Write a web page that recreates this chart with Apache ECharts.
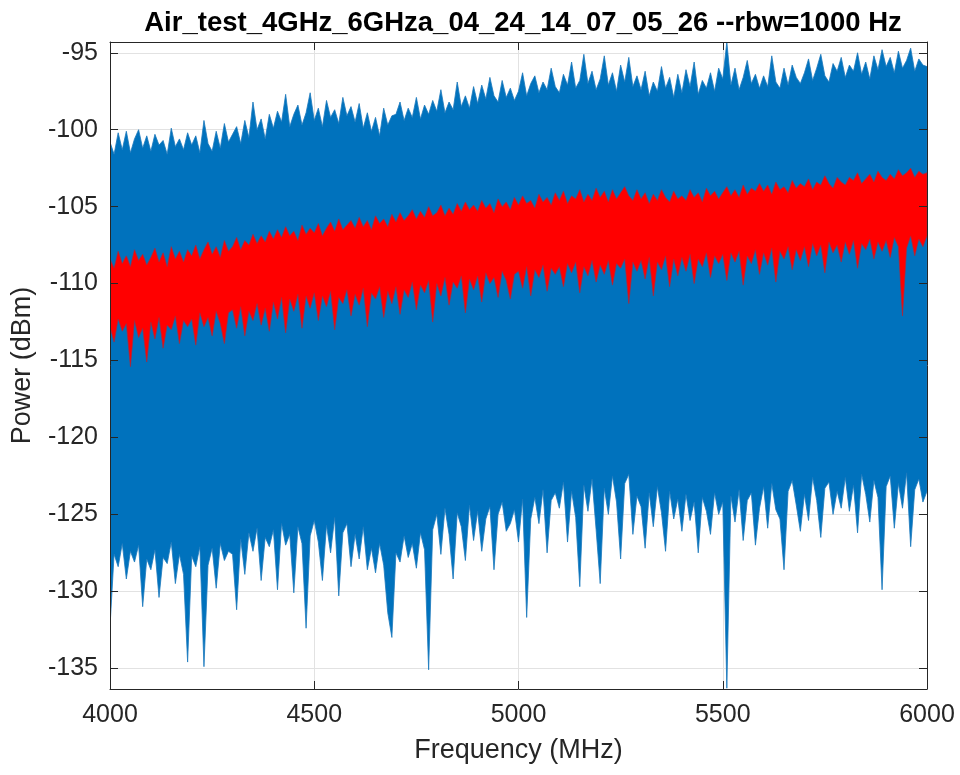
<!DOCTYPE html>
<html>
<head>
<meta charset="utf-8">
<script src="https://cdn.jsdelivr.net/npm/echarts@6/dist/echarts.min.js"></script>
<style>html,body{margin:0;padding:0;background:#fff}#c{width:960px;height:775px}</style>
</head>
<body>
<div id="c"></div>
<script>
// ---- data (10 MHz bins) ----
var titleText = 'Air_test_4GHz_6GHza_04_24_14_07_05_26 --rbw=1000 Hz';
var xName = 'Frequency (MHz)';
var yName = 'Power (dBm)';
var freqStart = 4000, freqStep = 10;
var xTicks = [4000, 4500, 5000, 5500, 6000];
var yTicks = [-135, -130, -125, -120, -115, -110, -105, -100, -95];

// blue trace: per-bin maximum (upper envelope)
var blueTop = [
-100.8,-101.6,-100.2,-101.3,-100.1,-101.5,-100.6,-100.0,-101.2,-100.4,
-101.4,-100.3,-101.0,-100.7,-101.6,-99.9,-101.1,-100.6,-101.3,-100.2,
-101.0,-100.4,-101.5,-99.4,-100.9,-101.4,-100.1,-101.2,-99.6,-100.8,
-100.3,-99.8,-100.9,-99.4,-100.5,-98.2,-100.0,-99.3,-100.6,-99.0,
-99.9,-98.8,-99.5,-97.7,-99.8,-99.0,-98.4,-99.7,-98.9,-97.6,
-99.4,-98.6,-99.8,-98.1,-99.2,-98.7,-99.6,-97.9,-99.1,-98.5,
-99.5,-98.3,-99.9,-98.9,-100.1,-99.2,-100.4,-98.6,-99.7,-99.1,
-99.0,-98.2,-99.4,-98.6,-99.2,-97.9,-99.3,-98.4,-99.0,-98.1,
-98.8,-97.4,-98.9,-98.2,-98.7,-96.9,-98.5,-97.8,-98.6,-97.2,
-98.3,-97.1,-98.0,-96.6,-97.8,-98.2,-96.8,-97.9,-97.3,-98.1,
-97.5,-96.3,-97.8,-97.0,-96.5,-97.6,-96.9,-97.4,-96.0,-97.2,
-97.6,-96.4,-97.1,-95.6,-97.3,-96.8,-95.1,-97.0,-96.2,-97.4,
-96.7,-95.2,-97.1,-96.3,-97.5,-95.8,-96.9,-95.3,-97.2,-96.5,
-97.4,-96.2,-97.8,-96.9,-97.5,-95.9,-97.3,-96.6,-97.9,-96.4,
-97.6,-96.1,-97.2,-95.6,-97.7,-96.8,-97.3,-96.3,-97.5,-96.0,
-96.7,-94.3,-97.1,-96.0,-97.4,-96.6,-95.5,-97.0,-96.4,-97.3,
-96.5,-97.2,-95.2,-96.9,-97.3,-96.0,-97.1,-95.8,-96.6,-97.0,
-96.3,-95.4,-96.8,-96.0,-95.1,-96.5,-96.9,-95.7,-96.2,-95.3,
-96.6,-95.8,-96.2,-95.0,-96.4,-95.6,-96.7,-95.2,-96.1,-94.8,
-95.9,-95.3,-96.3,-94.9,-96.0,-95.5,-94.7,-96.2,-95.4,-95.8,
-95.9
];
// blue trace: per-bin minimum (lower envelope)
var blueBot = [
-132.3,-127.6,-128.4,-126.9,-129.2,-127.4,-128.1,-127.0,-131.0,-127.9,
-128.6,-127.3,-130.4,-127.8,-128.2,-126.8,-129.5,-127.6,-128.9,-134.6,
-127.7,-128.4,-127.1,-134.9,-128.3,-127.2,-129.8,-126.9,-128.0,-127.4,
-127.6,-131.2,-126.6,-128.9,-126.2,-127.4,-125.9,-129.3,-126.5,-127.1,
-126.0,-129.9,-125.6,-127.0,-126.3,-130.1,-125.8,-126.9,-132.4,-126.4,
-125.4,-126.8,-129.3,-125.7,-127.5,-125.2,-130.3,-126.2,-125.6,-128.4,
-126.3,-127.9,-125.8,-128.6,-127.2,-128.8,-126.9,-128.3,-131.4,-133.0,
-127.5,-128.1,-126.4,-127.8,-126.9,-128.5,-126.2,-127.3,-135.1,-126.0,
-125.0,-127.6,-124.6,-126.3,-129.2,-124.9,-125.8,-128.0,-124.4,-126.7,
-124.8,-127.4,-125.3,-124.5,-128.6,-125.0,-124.2,-126.1,-125.6,-124.7,
-126.8,-124.0,-131.7,-125.3,-123.9,-125.6,-123.4,-127.5,-124.1,-123.6,
-124.6,-122.9,-126.8,-123.5,-125.2,-129.7,-123.1,-124.8,-122.7,-126.0,
-129.5,-123.3,-125.0,-122.5,-124.2,-127.9,-123.0,-122.4,-126.3,-123.8,
-124.5,-127.2,-123.6,-125.8,-123.2,-124.9,-127.4,-123.5,-125.3,-124.0,
-126.1,-123.7,-125.4,-124.2,-127.5,-123.9,-124.8,-126.3,-123.6,-125.0,
-124.2,-136.3,-123.8,-125.5,-123.4,-126.7,-124.1,-123.6,-127.0,-124.6,
-123.2,-125.9,-123.0,-124.7,-125.3,-128.6,-123.5,-122.8,-124.4,-126.1,
-123.7,-125.4,-122.6,-124.1,-126.5,-123.3,-122.9,-125.0,-123.5,-124.6,
-122.6,-124.8,-123.1,-126.2,-122.4,-123.7,-125.5,-122.8,-123.9,-129.9,
-123.2,-122.5,-125.9,-123.0,-124.6,-122.3,-127.1,-123.4,-122.7,-124.2,
-123.5
];
// red trace: per-bin maximum
var redTop = [
-108.4,-109.0,-107.9,-108.7,-108.2,-108.9,-107.8,-108.5,-108.1,-108.8,
-108.3,-107.7,-108.6,-108.0,-108.9,-107.6,-108.4,-107.9,-108.6,-107.8,
-108.2,-107.5,-108.4,-107.8,-107.3,-108.1,-107.6,-108.3,-107.2,-107.9,
-107.6,-107.0,-107.8,-107.2,-107.5,-106.8,-107.4,-106.9,-107.3,-106.6,
-107.1,-106.5,-107.0,-106.3,-106.9,-106.6,-107.2,-106.2,-106.8,-106.4,
-106.7,-106.1,-106.9,-106.4,-106.0,-106.6,-105.8,-106.5,-106.2,-105.9,
-106.4,-105.7,-106.3,-105.9,-106.5,-105.6,-106.1,-105.8,-106.3,-105.5,
-106.0,-105.4,-105.9,-105.6,-105.2,-105.8,-105.3,-105.7,-105.0,-105.6,
-105.4,-104.9,-105.6,-105.1,-105.5,-104.8,-105.3,-104.7,-105.2,-104.9,
-105.3,-104.6,-105.1,-104.8,-105.4,-104.5,-105.0,-104.7,-105.2,-104.4,
-104.9,-104.3,-104.8,-104.6,-105.1,-104.2,-104.7,-104.4,-104.9,-104.1,
-104.6,-104.0,-104.8,-104.3,-104.5,-103.9,-104.7,-104.2,-104.6,-103.8,
-104.4,-104.0,-104.7,-103.9,-104.5,-104.1,-103.7,-104.3,-104.6,-103.9,
-104.5,-104.1,-104.8,-104.2,-104.6,-103.9,-104.4,-104.7,-104.0,-104.5,
-104.3,-104.6,-103.9,-104.4,-104.1,-104.7,-103.8,-104.3,-104.0,-104.5,
-104.1,-103.7,-104.3,-103.9,-104.4,-103.6,-104.2,-103.8,-104.0,-103.5,
-104.0,-103.6,-104.2,-103.4,-103.9,-103.7,-104.1,-103.3,-103.8,-103.5,
-103.7,-103.2,-103.9,-103.4,-103.6,-103.0,-103.5,-103.8,-103.1,-103.4,
-103.6,-103.1,-103.3,-102.8,-103.5,-103.2,-102.9,-103.4,-102.7,-103.1,
-103.3,-102.9,-103.2,-102.6,-103.0,-102.8,-102.5,-103.1,-102.7,-102.9,
-102.8
];
// red trace: per-bin minimum
var redBot = [
-112.8,-113.8,-112.3,-113.1,-112.6,-115.4,-112.4,-113.5,-112.9,-115.1,
-112.5,-113.6,-112.2,-114.2,-112.7,-113.0,-112.1,-113.9,-112.4,-112.8,
-112.3,-114.0,-111.9,-112.8,-112.2,-113.4,-111.8,-112.6,-113.9,-111.9,
-111.7,-112.9,-111.5,-113.4,-111.8,-112.4,-111.3,-112.7,-111.6,-113.1,
-111.2,-112.3,-110.9,-113.2,-111.0,-111.8,-110.7,-112.9,-110.8,-111.6,
-110.6,-112.4,-110.8,-111.5,-110.5,-113.0,-110.9,-111.3,-110.4,-112.1,
-110.7,-111.4,-110.3,-112.8,-110.6,-111.0,-110.2,-112.2,-110.5,-111.3,
-110.2,-112.0,-110.4,-110.9,-109.9,-111.7,-110.1,-110.6,-109.8,-112.5,
-110.0,-110.8,-109.6,-111.4,-109.9,-110.3,-109.5,-111.9,-109.7,-110.4,
-109.5,-111.2,-109.3,-110.0,-109.6,-110.9,-109.2,-109.8,-111.0,-109.4,
-109.2,-110.3,-108.9,-110.8,-109.1,-109.6,-108.8,-110.5,-109.0,-109.4,
-108.9,-110.2,-108.7,-109.3,-108.6,-110.6,-108.9,-109.5,-108.5,-109.9,
-108.8,-109.4,-108.5,-110.1,-108.7,-109.0,-108.4,-111.3,-108.6,-109.2,
-108.5,-109.7,-108.3,-110.8,-108.6,-109.1,-108.2,-110.2,-108.4,-109.5,
-108.3,-109.2,-108.1,-110.0,-108.4,-108.9,-108.0,-109.6,-108.2,-108.7,
-108.1,-109.8,-108.0,-108.6,-107.9,-110.1,-108.2,-108.7,-107.8,-109.4,
-108.0,-108.8,-107.7,-109.9,-107.9,-108.4,-107.6,-109.1,-107.8,-108.5,
-107.6,-108.9,-107.4,-108.2,-107.5,-109.3,-107.3,-108.0,-107.5,-108.6,
-107.3,-108.1,-107.2,-109.0,-107.4,-107.8,-107.1,-108.4,-107.3,-107.9,
-107.2,-108.3,-107.0,-107.6,-112.1,-107.7,-106.9,-108.2,-107.1,-107.6,
-106.9
];
// axis extents as drawn in the reference
var xMin = 4000, xMax = 6000;
var yMin = -136.35, yMax = -94.3;

// ---- chart ----
var freqs = blueTop.map(function (_, i) { return freqStart + freqStep * i; });

function bandSeries(name, top, bot, fill, stroke) {
  return {
    name: name, type: 'custom', xAxisIndex: 0, yAxisIndex: 0, z: 2, clip: true,
    data: [[freqs[0], top[0]]],
    renderItem: function (params, api) {
      var pts = [];
      for (var i = 0; i < freqs.length; i++) pts.push(api.coord([freqs[i], top[i]]));
      for (var j = freqs.length - 1; j >= 0; j--) pts.push(api.coord([freqs[j], bot[j]]));
      return { type: 'polygon', shape: { points: pts },
        style: { fill: fill, stroke: stroke, lineWidth: 0.8, lineJoin: 'miter' } };
    }
  };
}

var FONT = 'Liberation Sans, Arial, Helvetica, sans-serif';
var DARK = '#262626';
var gridPos = { left: 110, top: 42, width: 817, height: 647 };

function frameX(pos) {
  return { gridIndex: 1, type: 'value', position: pos, min: xMin, max: xMax, interval: 500, z: 10,
    axisLine: { show: true, lineStyle: { color: DARK, width: 1 } },
    axisTick: { show: true, inside: true, length: 8, lineStyle: { color: DARK } },
    axisLabel: { show: false }, splitLine: { show: false } };
}
function frameY(pos) {
  return { gridIndex: 1, type: 'value', position: pos, min: yMin, max: yMax, splitNumber: 8, z: 10,
    axisLine: { show: true, lineStyle: { color: DARK, width: 1 } },
    axisTick: { show: true, inside: true, length: 8, lineStyle: { color: DARK } },
    axisLabel: { show: false }, splitLine: { show: false } };
}

var chart = echarts.init(document.getElementById('c'), null, { renderer: 'canvas' });
chart.setOption({
  backgroundColor: '#ffffff',
  animation: false,
  title: {
    text: titleText, left: 518, top: 4, textAlign: 'center',
    textStyle: { fontFamily: FONT, fontSize: 27.5, fontWeight: 'bold', color: '#000000' }
  },
  grid: [Object.assign({}, gridPos), Object.assign({}, gridPos)],
  xAxis: [
    { gridIndex: 0, type: 'value', min: xMin, max: xMax, interval: 500, z: 0,
      axisLine: { show: false }, axisTick: { show: false },
      axisLabel: { fontFamily: FONT, fontSize: 25, color: DARK, margin: 14,
        formatter: function (v) { return xTicks.indexOf(v) >= 0 ? String(v) : ''; } },
      splitLine: { show: true, lineStyle: { color: '#e2e2e2', width: 1 } },
      name: xName, nameLocation: 'middle', nameGap: 48,
      nameTextStyle: { fontFamily: FONT, fontSize: 27, color: DARK } },
    frameX('bottom'), frameX('top')
  ],
  yAxis: [
    { gridIndex: 0, type: 'value', min: yMin, max: yMax, splitNumber: 8, z: 0,
      axisLine: { show: false }, axisTick: { show: false },
      axisLabel: { fontFamily: FONT, fontSize: 25, color: DARK, margin: 12,
        showMinLabel: false, showMaxLabel: false,
        formatter: function (v) { return yTicks.indexOf(v) >= 0 ? String(v) : ''; } },
      splitLine: { show: true, lineStyle: { color: '#e2e2e2', width: 1 } },
      name: yName, nameLocation: 'middle', nameGap: 74,
      nameTextStyle: { fontFamily: FONT, fontSize: 27, color: DARK } },
    frameY('left'), frameY('right')
  ],
  series: [
    bandSeries('Blue trace', blueTop, blueBot, '#0072BD', '#1a78bd'),
    bandSeries('Red trace', redTop, redBot, '#FF0000', 'rgba(170,40,60,0.85)')
  ]
});
</script>
</body>
</html>
